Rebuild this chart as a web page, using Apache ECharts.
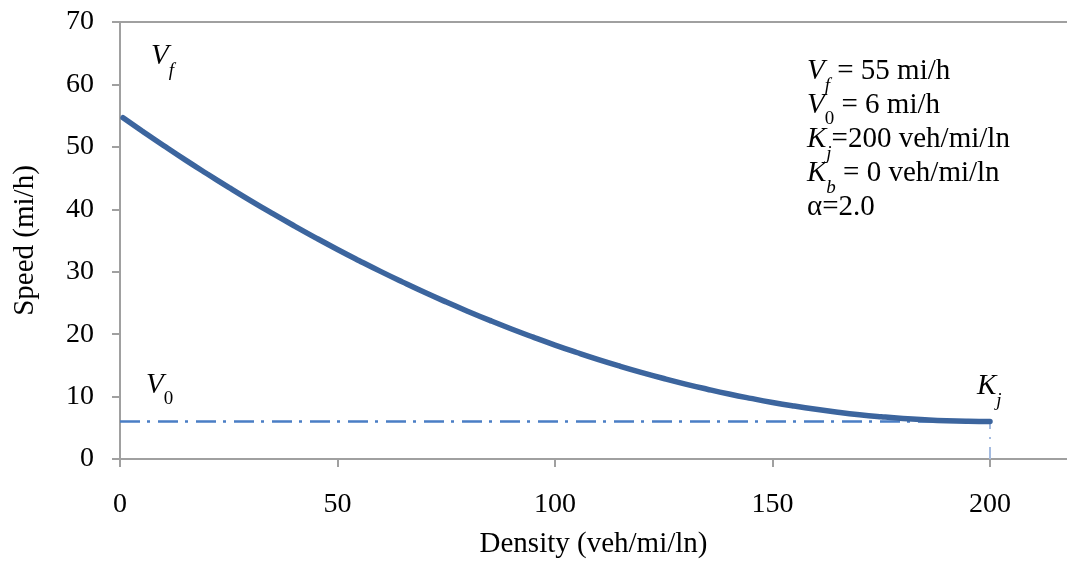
<!DOCTYPE html>
<html>
<head>
<meta charset="utf-8">
<script src="https://cdn.jsdelivr.net/npm/echarts@6/dist/echarts.min.js"></script>
<style>html,body{margin:0;padding:0;background:#fff}#c{width:1067px;height:564px}</style>
</head>
<body>
<div id="c"></div>
<script>
// Data
const density = [0.7, 5, 10, 15, 20, 25, 30, 35, 40, 45, 50, 55, 60, 65, 70, 75, 80, 85, 90, 95, 100, 105, 110, 115, 120, 125, 130, 135, 140, 145, 150, 155, 160, 165, 170, 175, 180, 185, 190, 195, 200];
const speed = [54.66, 52.59, 50.22, 47.91, 45.69, 43.52, 41.40, 39.35, 37.36, 35.43, 33.56, 31.76, 30.01, 28.33, 26.70, 25.14, 23.64, 22.20, 20.82, 19.51, 18.25, 17.06, 15.92, 14.85, 13.84, 12.89, 12.00, 11.18, 10.41, 9.71, 9.06, 8.48, 7.96, 7.50, 7.10, 6.77, 6.49, 6.28, 6.12, 6.03, 6.00];
const v0Line = [[0, 6], [200, 6]];
const kjLine = [[200, 0], [200, 6]];
const xTicks = [0, 50, 100, 150, 200];
const yTicks = [0, 10, 20, 30, 40, 50, 60, 70];

const FONT = '"Liberation Serif", "DejaVu Serif", serif';
const axisGray = '#a0a0a0';

const rich = {
  v: {fontFamily: FONT, fontSize: 29, fontStyle: 'italic', color: '#000', verticalAlign: 'bottom', lineHeight: 32},
  si: {fontFamily: FONT, fontSize: 19, fontStyle: 'italic', color: '#000', verticalAlign: 'bottom', lineHeight: 32, padding: [0, 0, -9, 0]},
  s: {fontFamily: FONT, fontSize: 19, color: '#000', verticalAlign: 'bottom', lineHeight: 32, padding: [0, 0, -9, 0]},
  t: {fontFamily: FONT, fontSize: 29, color: '#000', verticalAlign: 'bottom', lineHeight: 32}
};

function txt(x, y, s) {
  return {type: 'text', left: x, top: y, style: {text: s, rich: rich, font: '29px ' + FONT}};
}

const chart = echarts.init(document.getElementById('c'), null, {renderer: 'canvas'});
chart.setOption({
  animation: false,
  backgroundColor: '#fff',
  grid: {left: 120, right: 0, top: 22, bottom: 103, containLabel: false},
  xAxis: [{
    type: 'value', min: 0, max: 217.7, interval: 50,
    name: 'Density (veh/mi/ln)', nameLocation: 'middle', nameGap: 71,
    nameTextStyle: {fontFamily: FONT, fontSize: 29, color: '#000'},
    axisLine: {show: true, lineStyle: {color: axisGray, width: 2}},
    axisTick: {show: true, length: 8, lineStyle: {color: axisGray, width: 2}},
    axisLabel: {fontFamily: FONT, fontSize: 28, color: '#000', margin: 32, showMaxLabel: false,
      formatter: v => xTicks.includes(v) ? String(v) : ''},
    splitLine: {show: false}
  }, {
    type: 'value', min: 0, max: 217.7, position: 'top',
    axisLine: {show: true, lineStyle: {color: axisGray, width: 2}},
    axisTick: {show: false}, axisLabel: {show: false}, splitLine: {show: false}
  }],
  yAxis: {
    type: 'value', min: 0, max: 70, interval: 10,
    name: 'Speed (mi/h)', nameLocation: 'middle', nameGap: 80, nameRotate: 90,
    nameTextStyle: {fontFamily: FONT, fontSize: 29, color: '#000'},
    axisLine: {show: true, lineStyle: {color: axisGray, width: 2}},
    axisTick: {show: true, length: 8, lineStyle: {color: axisGray, width: 2}},
    axisLabel: {fontFamily: FONT, fontSize: 28, color: '#000', margin: 26,
      formatter: v => yTicks.includes(v) ? String(v) : ''},
    splitLine: {show: false}
  },
  series: [
    {type: 'line', data: v0Line, showSymbol: false, symbol: 'none', z: 2,
     lineStyle: {color: '#4a7ec5', width: 2.5, type: [20, 7, 3, 8]}},
    {type: 'line', data: kjLine, showSymbol: false, symbol: 'none', z: 2,
     lineStyle: {color: '#a4bbe0', width: 2, type: [12, 8, 2, 8]}},
    {type: 'line', data: density.map((d, i) => [d, speed[i]]), smooth: true, showSymbol: false, symbol: 'none', z: 3,
     lineStyle: {color: '#3c659e', width: 5.5, cap: 'round'}}
  ],
  graphic: [
    txt(151, 42, '{v|V}{si|f}'),
    txt(146, 371, '{v|V}{s|0}'),
    txt(977, 372, '{v|K}{si|j}'),
    txt(807, 57, '{v|V}{si|f}{t| = 55 mi/h}'),
    txt(807, 91, '{v|V}{s|0}{t| = 6 mi/h}'),
    txt(807, 125, '{v|K}{si|j}{t|=200 veh/mi/ln}'),
    txt(807, 159, '{v|K}{si|b}{t| = 0 veh/mi/ln}'),
    txt(807, 193, '{t|\u03b1=2.0}')
  ]
});
</script>
</body>
</html>
